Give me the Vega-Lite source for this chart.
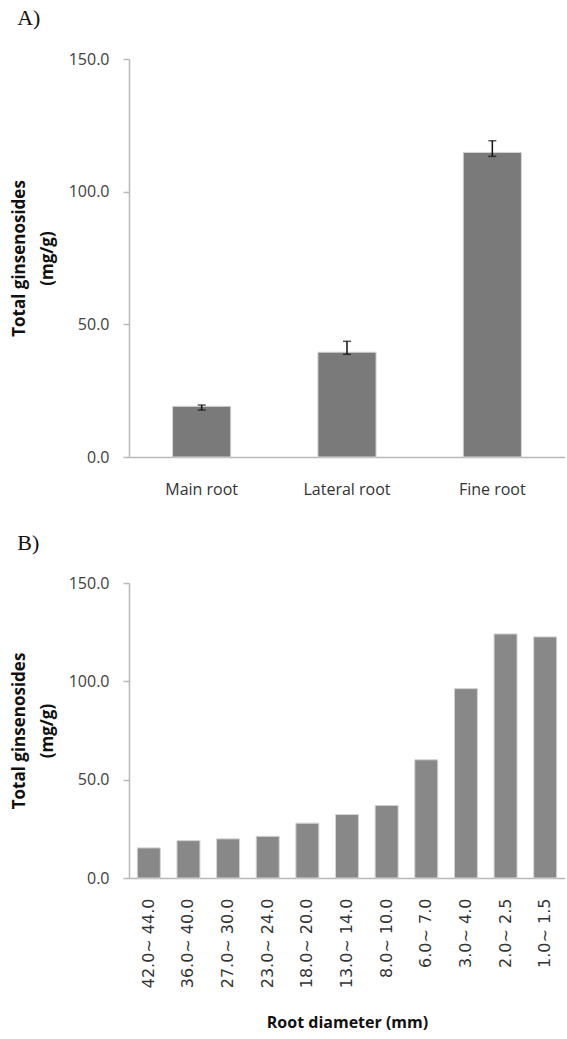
{
  "$schema": "https://vega.github.io/schema/vega-lite/v6.json",
  "padding": {"left": 10, "top": 7, "right": 0, "bottom": 8},
  "spacing": 35,
  "config": {
    "font": "Open Sans",
    "view": {"stroke": null},
    "title": {"font": "Liberation Serif", "fontSize": 22, "fontWeight": "normal", "color": "#111", "anchor": "start", "frame": "bounds", "dx": 7}
  },
  "vconcat": [
    {
      "title": {"text": "A)", "offset": 21},
      "width": 436,
      "height": 398,
      "data": {"values": [
        {"part": "Main root", "value": 19.1, "lo": 17.7, "hi": 19.6},
        {"part": "Lateral root", "value": 39.5, "lo": 38.7, "hi": 43.6},
        {"part": "Fine root", "value": 114.8, "lo": 113.3, "hi": 119.2}
      ]},
      "encoding": {
        "x": {"field": "part", "type": "nominal", "sort": null,
          "scale": {"paddingInner": 0.6, "paddingOuter": 0.3},
          "axis": {"title": null, "labelAngle": 0, "ticks": false, "domainColor": "#b8b8b8", "domainWidth": 1.5, "labelFontSize": 16, "labelColor": "#333", "labelPadding": 24, "labelFont": "Open Sans"}}
      },
      "layer": [
        {
          "mark": {"type": "bar", "color": "#7a7a7a", "stroke": "#d4d4d4", "strokeWidth": 1},
          "encoding": {
            "y": {"field": "value", "type": "quantitative",
              "scale": {"domain": [0, 150], "nice": false},
              "axis": {"values": [0, 50, 100, 150], "format": ".1f", "grid": false,
                "title": ["Total ginsenosides", "(mg/g)"], "titleFontSize": 17, "titleFontWeight": "bold", "titleColor": "#111", "titleLineHeight": 28, "titlePadding": 12,
                "labelFontSize": 16, "labelColor": "#404040", "labelPadding": 14,
                "tickSize": 6, "tickColor": "#b8b8b8", "tickWidth": 1.5, "domainColor": "#b8b8b8", "domainWidth": 1.5}}
          }
        },
        {
          "mark": {"type": "rule", "color": "#111", "strokeWidth": 1.5},
          "encoding": {"y": {"field": "lo", "type": "quantitative"}, "y2": {"field": "hi"}}
        },
        {
          "mark": {"type": "tick", "color": "#111", "size": 8, "thickness": 1.5},
          "encoding": {"y": {"field": "lo", "type": "quantitative"}}
        },
        {
          "mark": {"type": "tick", "color": "#111", "size": 8, "thickness": 1.5},
          "encoding": {"y": {"field": "hi", "type": "quantitative"}}
        }
      ]
    },
    {
      "title": {"text": "B)", "offset": 20},
      "width": 436,
      "height": 295,
      "data": {"values": [
        {"diameter": "42.0~ 44.0", "value": 15.3},
        {"diameter": "36.0~ 40.0", "value": 19.0},
        {"diameter": "27.0~ 30.0", "value": 19.9},
        {"diameter": "23.0~ 24.0", "value": 21.2},
        {"diameter": "18.0~ 20.0", "value": 27.9},
        {"diameter": "13.0~ 14.0", "value": 32.3},
        {"diameter": "8.0~ 10.0", "value": 36.9},
        {"diameter": "6.0~ 7.0", "value": 60.1},
        {"diameter": "3.0~ 4.0", "value": 96.3},
        {"diameter": "2.0~ 2.5", "value": 124.1},
        {"diameter": "1.0~ 1.5", "value": 122.6}
      ]},
      "mark": {"type": "bar", "color": "#888888", "stroke": "#d4d4d4", "strokeWidth": 1},
      "encoding": {
        "x": {"field": "diameter", "type": "nominal", "sort": null,
          "scale": {"paddingInner": 0.42, "paddingOuter": 0.21},
          "axis": {"title": "Root diameter (mm)", "titleFontSize": 16, "titleFontWeight": "bold", "titleColor": "#111", "titlePadding": 27,
            "labelAngle": -90, "ticks": false, "domainColor": "#b8b8b8", "domainWidth": 1.5, "labelFontSize": 16, "labelColor": "#333", "labelPadding": 20, "labelFont": "DejaVu Sans"}},
        "y": {"field": "value", "type": "quantitative",
          "scale": {"domain": [0, 150], "nice": false},
          "axis": {"values": [0, 50, 100, 150], "format": ".1f", "grid": false,
            "title": ["Total ginsenosides", "(mg/g)"], "titleFontSize": 17, "titleFontWeight": "bold", "titleColor": "#111", "titleLineHeight": 28, "titlePadding": 12,
            "labelFontSize": 16, "labelColor": "#404040", "labelPadding": 14,
            "tickSize": 6, "tickColor": "#b8b8b8", "tickWidth": 1.5, "domainColor": "#b8b8b8", "domainWidth": 1.5}}
      }
    }
  ]
}
